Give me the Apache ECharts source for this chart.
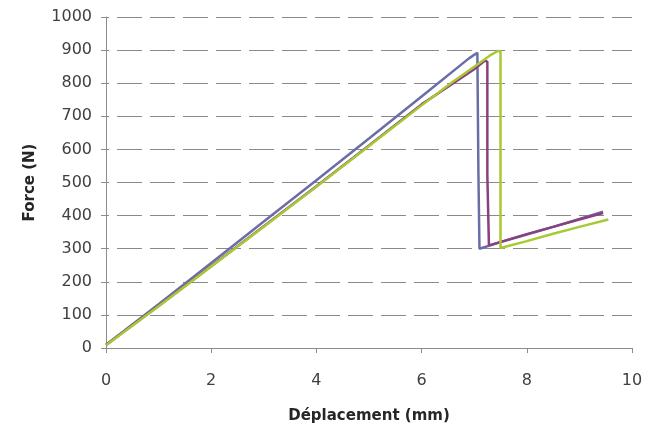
<!DOCTYPE html>
<html>
<head>
<meta charset="utf-8">
<script src="https://cdn.jsdelivr.net/npm/echarts@6/dist/echarts.min.js"></script>
<style>
html,body{margin:0;padding:0;background:#fff;}
#chart{width:646px;height:436px;}
</style>
</head>
<body>
<div id="chart"></div>
<script>
// Data: [déplacement (mm), force (N)]
const seriesBlue = [
  [0, 10], [1, 132], [2, 257], [3, 382], [4, 507], [5, 633], [6, 760], [6.9, 875], [7.06, 892],
  [7.08, 888], [7.08, 530], [7.1, 525], [7.1, 300], [7.5, 320], [8, 343], [8.5, 366], [9, 390], [9.45, 412]
];
const seriesPurple = [
  [0, 9], [1, 127], [2, 247], [3, 368], [4, 489], [5, 612], [6, 736], [7, 842], [7.2, 868],
  [7.25, 865], [7.25, 522], [7.28, 516], [7.28, 310], [7.6, 325], [8, 344], [8.5, 366], [9, 388], [9.45, 408]
];
const seriesGreen = [
  [0, 8], [1, 126], [2, 246], [3, 366], [4, 487], [5, 610], [6, 733], [6.6, 805], [7, 850], [7.3, 884], [7.46, 898],
  [7.5, 895], [7.5, 302], [8, 323], [8.5, 345], [9, 366], [9.55, 388]
];
const xTicks = [0, 2, 4, 6, 8, 10];
const yTicks = [0, 100, 200, 300, 400, 500, 600, 700, 800, 900, 1000];

const chart = echarts.init(document.getElementById('chart'), null, {renderer: 'canvas'});
const font = 'DejaVu Sans';
function lineSeries(name, data, color, z) {
  return {
    name: name, type: 'line', data: data, showSymbol: false, smooth: false, z: z,
    lineStyle: {color: color, width: 2.5}, itemStyle: {color: color}, animation: false
  };
}
chart.setOption({
  backgroundColor: '#ffffff',
  animation: false,
  grid: {left: 106, right: 14, top: 17, bottom: 88},
  xAxis: {
    type: 'value', min: xTicks[0], max: xTicks[xTicks.length - 1], interval: 2,
    name: 'Déplacement (mm)', nameLocation: 'middle', nameGap: 61,
    nameTextStyle: {fontFamily: font, fontWeight: 'bold', fontSize: 15, color: '#262626'},
    axisLine: {show: true, lineStyle: {color: '#8c8c8c', width: 1}},
    axisTick: {show: true, inside: false, length: 5, lineStyle: {color: '#8c8c8c'}},
    axisLabel: {fontFamily: font, fontSize: 16, color: '#404040', margin: 25, formatter: v => String(v)},
    splitLine: {show: false}
  },
  yAxis: {
    type: 'value', min: yTicks[0], max: yTicks[yTicks.length - 1], interval: 100,
    name: 'Force (N)', nameLocation: 'middle', nameGap: 68, nameRotate: 90,
    nameTextStyle: {fontFamily: font, fontWeight: 'bold', fontSize: 15, color: '#262626'},
    axisLine: {show: true, lineStyle: {color: '#8c8c8c', width: 1}},
    axisTick: {show: true, inside: false, length: 5, lineStyle: {color: '#8c8c8c'}},
    axisLabel: {fontFamily: font, fontSize: 16, color: '#404040', margin: 14, formatter: v => String(v)},
    splitLine: {show: true, lineStyle: {color: '#8a8a8a', width: 1, type: [25, 8], dashOffset: 22}}
  },
  series: [
    lineSeries('Essai 1', seriesBlue, '#6a6ea6', 2),
    lineSeries('Essai 2', seriesPurple, '#8a3f7e', 3),
    lineSeries('Essai 3', seriesGreen, '#a8c934', 4)
  ]
});
</script>
</body>
</html>
